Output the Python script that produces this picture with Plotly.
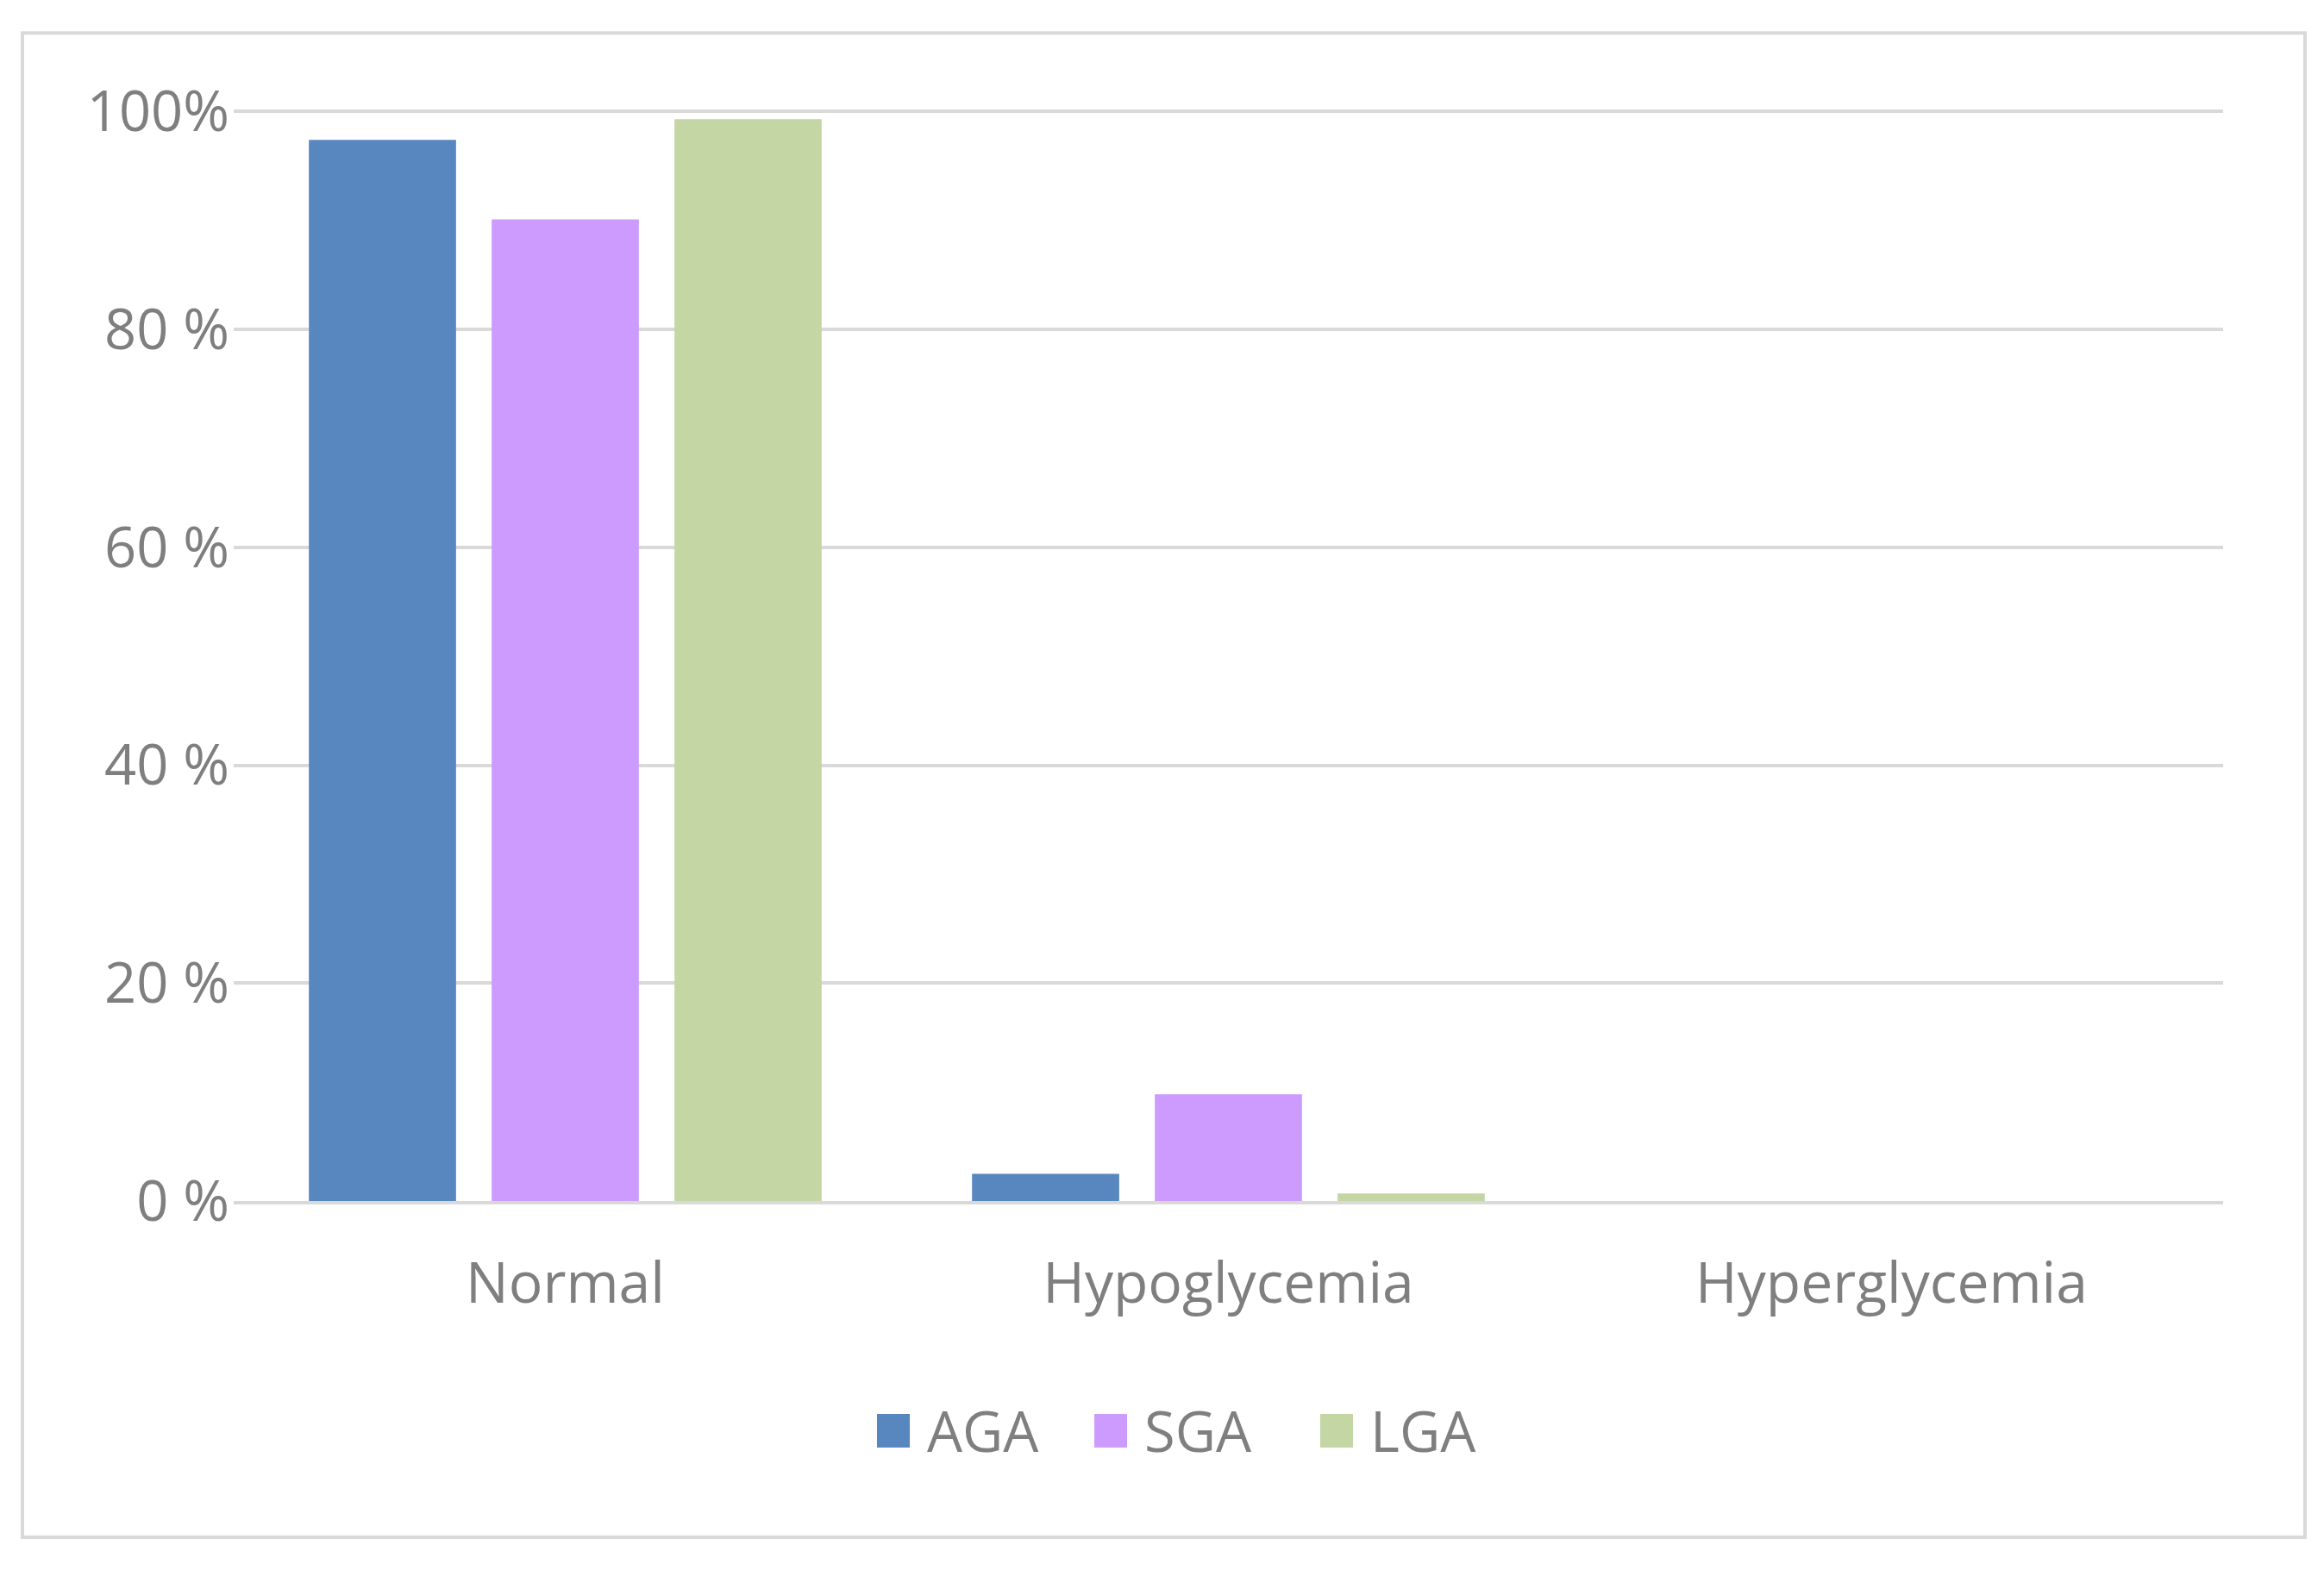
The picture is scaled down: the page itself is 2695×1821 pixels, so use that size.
import plotly.graph_objects as go

categories = ["Normal", "Hypoglycemia", "Hyperglycemia"]
series_names = ["AGA", "SGA", "LGA"]
aga = [97.4, 2.5, 0.0]
sga = [90.1, 9.8, 0.0]
lga = [99.3, 0.7, 0.0]
tick_vals = [0, 20, 40, 60, 80, 100]
tick_text = ["0 %", "20 %", "40 %", "60 %", "80 %", "100%"]
colors = ["#5886BF", "#CC9BFD", "#C4D6A3"]

OFF = 8  # page body margin
W, H = 2695 - OFF, 1821 - OFF
YMAX = 100.5
y0_px, y100_px = 1393 - OFF, 129 - OFF
plot_h = (y0_px - y100_px) * YMAX / 100
L = 271 - OFF
R = W - (2578 - OFF)
T = y0_px - plot_h
B = H - y0_px
PW, PH = W - L - R, H - T - B
FONT = "Open Sans"
GRAY = "#7F7F7F"

fig = go.Figure()
for name, vals, col in zip(series_names, [aga, sga, lga], colors):
    fig.add_trace(go.Bar(x=categories, y=vals, name=name,
                         marker=dict(color=col, line=dict(width=0))))

def px_x(x):
    return (x - OFF - L) / PW

def px_y(y):
    return (H - B - (y - OFF)) / PH

shapes = [dict(type="rect", xref="paper", yref="paper",
               x0=px_x(26), x1=px_x(2673),
               y0=px_y(1783), y1=px_y(38),
               line=dict(color="#D9D9D9", width=4), layer="below")]
annotations = []
sq_x = [1017, 1269, 1531]
for name, col, sx in zip(series_names, colors, sq_x):
    shapes.append(dict(type="rect", xref="paper", yref="paper",
                       x0=px_x(sx), x1=px_x(sx + 38),
                       y0=px_y(1679), y1=px_y(1640),
                       fillcolor=col, line=dict(width=0)))
    annotations.append(dict(xref="paper", yref="paper", x=px_x(sx + 56), y=px_y(1659),
                            text=name, showarrow=False, xanchor="left", yanchor="middle",
                            font=dict(family=FONT, size=65, color=GRAY)))

fig.update_layout(
    width=W, height=H,
    margin=dict(l=L, r=R, t=T, b=B),
    paper_bgcolor="white", plot_bgcolor="white",
    barmode="group", bargap=0.173, bargroupgap=0.195,
    showlegend=False,
    shapes=shapes, annotations=annotations,
    font=dict(family=FONT, color=GRAY, size=60),
)
fig.update_yaxes(range=[0, YMAX], tickvals=tick_vals, ticktext=tick_text,
                 showgrid=True, gridcolor="#D9D9D9", gridwidth=4,
                 zeroline=False, showline=False, ticks="",
                 tickfont=dict(family=FONT, size=65, color=GRAY), ticklabelstandoff=4)
fig.update_xaxes(showline=True, linecolor="#D9D9D9", linewidth=4, ticks="",
                 tickfont=dict(family=FONT, size=66, color=GRAY), ticklabelstandoff=35)

fig.write_html("out.html")
